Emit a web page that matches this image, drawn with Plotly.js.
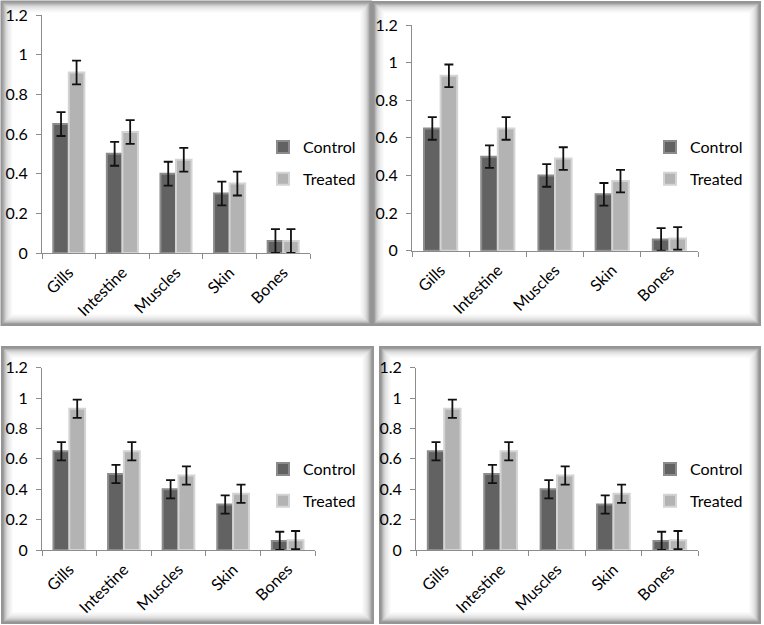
<!DOCTYPE html>
<html>
<head>
<meta charset="utf-8">
<script src="https://cdn.plot.ly/plotly-3.0.1.min.js"></script>
<style>
html,body{margin:0;padding:0;background:#fff;}
#chart{width:764px;height:625px;}
</style>
</head>
<body>
<div id="chart"></div>
<script>
// ---- data ----
const categories = ['Gills', 'Intestine', 'Muscles', 'Skin', 'Bones'];
const seriesNames = ['Control', 'Treated'];
const yTicks = [0, 0.2, 0.4, 0.6, 0.8, 1, 1.2];

const control1 = [0.65, 0.50, 0.40, 0.30, 0.06];
const controlErr1 = [0.06, 0.06, 0.06, 0.06, 0.06];
const treated1 = [0.91, 0.61, 0.47, 0.35, 0.06];
const treatedErr1 = [0.06, 0.06, 0.06, 0.06, 0.06];

const control2 = [0.65, 0.50, 0.40, 0.30, 0.06];
const controlErr2 = [0.06, 0.06, 0.06, 0.06, 0.06];
const treated2 = [0.93, 0.65, 0.49, 0.37, 0.065];
const treatedErr2 = [0.06, 0.06, 0.06, 0.06, 0.06];

const control3 = [0.65, 0.50, 0.40, 0.30, 0.06];
const controlErr3 = [0.06, 0.06, 0.06, 0.06, 0.06];
const treated3 = [0.93, 0.65, 0.49, 0.37, 0.065];
const treatedErr3 = [0.06, 0.06, 0.06, 0.06, 0.06];

const control4 = [0.65, 0.50, 0.40, 0.30, 0.06];
const controlErr4 = [0.06, 0.06, 0.06, 0.06, 0.06];
const treated4 = [0.93, 0.65, 0.49, 0.37, 0.065];
const treatedErr4 = [0.06, 0.06, 0.06, 0.06, 0.06];

// ---- build ----
const W = 764, H = 625;
const FONT = 'Lato, "Liberation Sans", sans-serif';
const FS = 16;
const px = v => v / W;
const py = v => 1 - v / H;

const panels = [
  {c: control1, ce: controlErr1, t: treated1, te: treatedErr1,
   x0: 42, x1: 310, yb: 253, yt: 15, lx: 263, ly: 130, frame: [1.5, 1.5, 371, 325]},
  {c: control2, ce: controlErr2, t: treated2, te: treatedErr2,
   x0: 412, x1: 698, yb: 250.7, yt: 25, lx: 650, ly: 130, frame: [373, 2, 760, 325]},
  {c: control3, ce: controlErr3, t: treated3, te: treatedErr3,
   x0: 42, x1: 315, yb: 550, yt: 367.7, lx: 263, ly: 452, frame: [2, 347, 373, 623]},
  {c: control4, ce: controlErr4, t: treated4, te: treatedErr4,
   x0: 416, x1: 698, yb: 550, yt: 367.7, lx: 650, ly: 452, frame: [380, 347, 760, 623]}
];

const colors = {
  Control: {fill: '#626262', line: '#8c8c8c'},
  Treated: {fill: '#b3b3b3', line: '#d4d4d4'}
};

const traces = [];
const layout = {
  width: W, height: H,
  margin: {l: 0, r: 0, t: 0, b: 0},
  paper_bgcolor: 'rgba(0,0,0,0)',
  plot_bgcolor: 'rgba(0,0,0,0)',
  barmode: 'group',
  bargap: 0.42,
  bargroupgap: 0,
  font: {family: FONT, size: FS, color: '#000'},
  shapes: []
};

panels.forEach((p, i) => {
  const n = i === 0 ? '' : String(i + 1);
  const xa = 'x' + n, ya = 'y' + n;
  const lg = 'legend' + n;
  [['Control', p.c, p.ce], ['Treated', p.t, p.te]].forEach(([name, vals, errs]) => {
    traces.push({
      type: 'bar', name: name, x: categories, y: vals,
      xaxis: xa, yaxis: ya, legend: lg, legendgroup: name + n,
      marker: {color: colors[name].fill, line: {color: colors[name].line, width: 2}},
      error_y: {type: 'data', array: errs, visible: true, color: '#111', thickness: 1.8, width: 4.5}
    });
  });
  layout['xaxis' + n] = {
    domain: [px(p.x0), px(p.x1)], anchor: ya, type: 'category',
    range: [-0.5, 4.5], showline: true, linecolor: '#8c8c8c', linewidth: 1,
    ticks: 'outside', ticklen: 5, tickcolor: '#8c8c8c', tickson: 'boundaries',
    tickangle: -45, showgrid: false, zeroline: false, ticklabelstandoff: 3,
    tickfont: {family: FONT, size: FS, color: '#000'}
  };
  layout['yaxis' + n] = {
    domain: [py(p.yb), py(p.yt)], anchor: xa, range: [0, 1.2],
    tickvals: yTicks, showline: true, linecolor: '#8c8c8c', linewidth: 1,
    ticks: 'outside', ticklen: 5, tickcolor: '#8c8c8c', showgrid: false, zeroline: false,
    ticklabelstandoff: 5,
    tickfont: {family: FONT, size: FS, color: '#000'}
  };
  layout[lg] = {
    x: px(p.lx), y: py(p.ly), xanchor: 'left', yanchor: 'top',
    bgcolor: 'rgba(0,0,0,0)', tracegroupgap: 8, itemwidth: 30,
    font: {family: FONT, size: FS, color: '#000'}
  };
  // frame with inner shadow
  const [fx0, fy0, fx1, fy1] = p.frame;
  for (let k = 10; k >= 1; k--) {
    const a = 0.5 * Math.pow(0.74, k);
    layout.shapes.push({type: 'rect', xref: 'paper', yref: 'paper',
      x0: px(fx0 + k), x1: px(fx1 - k), y0: py(fy1 - k), y1: py(fy0 + k),
      line: {color: 'rgba(80,80,80,' + a.toFixed(3) + ')', width: 2}, layer: 'below'});
  }
  layout.shapes.push({type: 'rect', xref: 'paper', yref: 'paper',
    x0: px(fx0), x1: px(fx1), y0: py(fy1), y1: py(fy0),
    line: {color: '#959595', width: 2}, layer: 'below'});
});

Plotly.newPlot('chart', traces, layout, {displayModeBar: false, staticPlot: true});
</script>
</body>
</html>
